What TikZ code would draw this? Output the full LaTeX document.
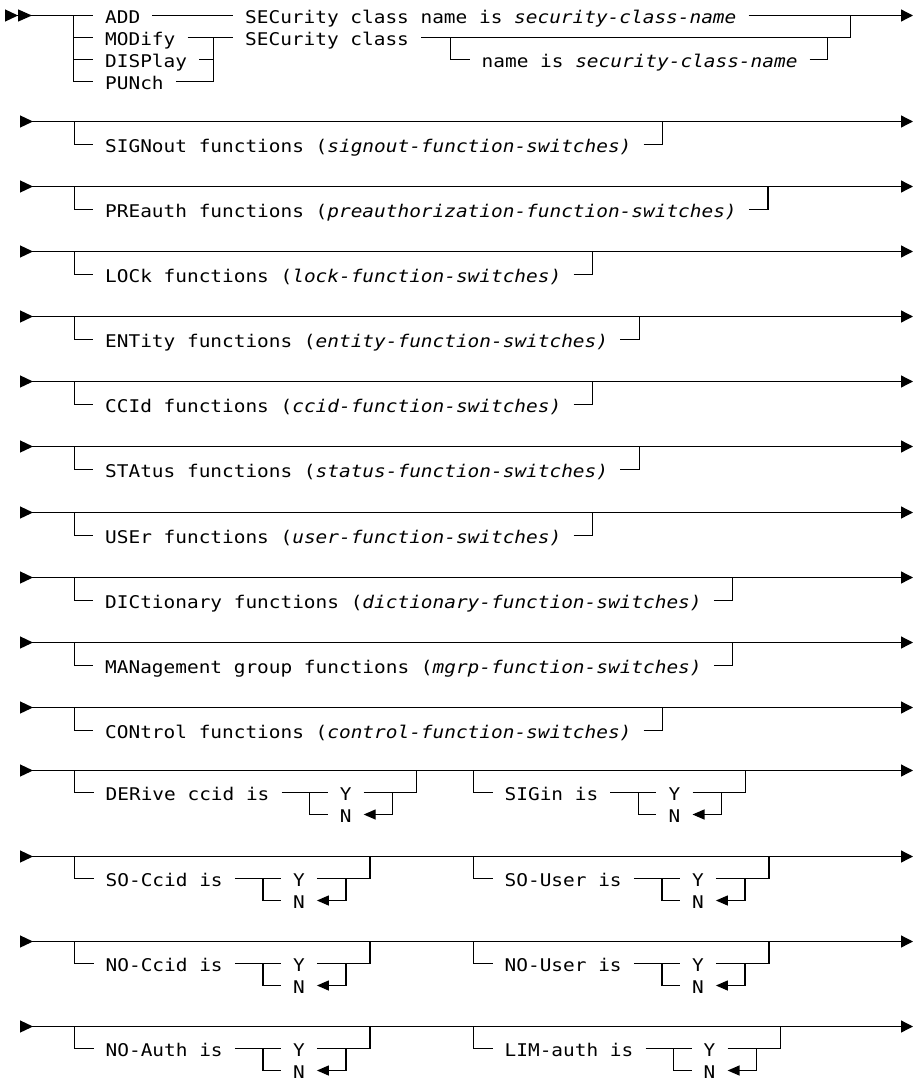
\documentclass[tikz,border=0pt]{standalone}
\usepackage{fontspec}
\newfontfamily\synfont{DejaVu Sans Mono}[FakeStretch=1.11,ItalicFont=* Oblique]
\usepackage{tikz}
\usetikzlibrary{arrows.meta,positioning,calc}
\tikzset{
  rail/.style={line width=1.3pt,draw=black},
  mainrail/.style={rail,{Triangle[reversed,length=13pt,width=12pt]}-{Triangle[length=12pt,width=12pt]}},
  startrail/.style={rail,{Triangle[reversed,length=13pt,width=12pt]Triangle[reversed,length=14pt,width=12pt]}-},
  endrail/.style={rail,-{Triangle[length=12pt,width=12pt]}},
  backrail/.style={rail,-{Triangle[length=12pt,width=10pt]}},
  kw/.style={anchor=west,inner xsep=12pt,inner ysep=0pt,text height=15.6pt,text depth=0pt,
    font={\synfont\fontsize{17.5}{20}\selectfont}},
  yn/.style={kw,anchor=center}
}

\begin{document}
\begin{tikzpicture}[x=1pt,y=-1pt]
  \useasboundingbox (0,0) rectangle (914,1082);
  \coordinate (st) at (5,15.5);
  \coordinate (fin) at (913,15.5);
  \node[kw] (add) at (93,15.5) {ADD};
  \node[kw] (modify) at (93,37.5) {MODify};
  \node[kw] (display) at (93,59.5) {DISPlay};
  \node[kw] (punch) at (93,81.5) {PUNch};
  \node[kw] (secname) at (233,15.5) {SECurity class name is \textit{security-class-name}};
  \node[kw] (secclass) at (233,37.5) {SECurity class};
  \node[kw] (nameis) at (469.5,59.5) {name is \textit{security-class-name}};
  \coordinate (ja) at (73.5,15.5);
  \coordinate (jm) at (213.5,37.5);
  \coordinate (jn) at (450.5,37.5);
  \coordinate (jr) at (850.5,15.5);
  \coordinate (jq) at ($(nameis.east)+(18,-22)$);
  \draw[startrail] (st) -- (add.west);
  \draw[rail] (ja) |- (punch.west);
  \draw[rail] (ja |- modify.west) -- (modify.west);
  \draw[rail] (ja |- display.west) -- (display.west);
  \draw[rail] (modify.east) -- (secclass.west);
  \draw[rail] (display.east) -| (jm);
  \draw[rail] (punch.east) -| (jm);
  \draw[rail] (add.east) -- (secname.west);
  \draw[endrail] (secname.east) -- (fin);
  \draw[rail] (secclass.east) -| (jr);
  \draw[rail] (jn) |- (nameis.west);
  \draw[rail] (nameis.east) -| (jq);

  \foreach \kwd/\arg [count=\k from 0] in {SIGNout functions/signout-function-switches,
      PREauth functions/preauthorization-function-switches,
      LOCk functions/lock-function-switches,
      ENTity functions/entity-function-switches,
      CCId functions/ccid-function-switches,
      STAtus functions/status-function-switches,
      USEr functions/user-function-switches,
      DICtionary functions/dictionary-function-switches,
      MANagement group functions/mgrp-function-switches,
      CONtrol functions/control-function-switches}{
    \pgfmathsetmacro\yy{round(120.5+65.2*\k)+0.5}
    \coordinate (s\k) at (20,\yy);
    \coordinate (e\k) at (913,\yy);
    \draw[mainrail] (s\k) -- (e\k);
    \node[kw] (opt\k) at (93,\yy+23) {\kwd\ (\textit{\arg)}};
    \coordinate (lj\k) at (74.5,\yy);
    \coordinate (rj\k) at ($(opt\k.east)+(19,-23)$);
    \draw[rail] (lj\k) |- (opt\k.west);
    \draw[rail] (opt\k.east) -| (rj\k);
  }

  \foreach \lt/\rt/\yy [count=\r] in {DERive ccid is/SIGin is/770.5,
      SO-Ccid is/SO-User is/856.5,
      NO-Ccid is/NO-User is/941.5,
      NO-Auth is/LIM-auth is/1026.5}{
    \coordinate (ys\r) at (20,\yy);
    \coordinate (ye\r) at (913,\yy);
    \draw[mainrail] (ys\r) -- (ye\r);
    \foreach \t/\bx/\sd in {\lt/74.5/l,\rt/473.5/r}{
      \coordinate (b\r\sd) at (\bx,\yy);
      \node[kw] (q\r\sd) at (\bx+19,\yy+22) {\t};
      \coordinate (c\r\sd) at ($(q\r\sd.east)+(28,0)$);
      \node[yn] (y\r\sd) at ($(c\r\sd)+(36,0)$) {Y};
      \node[yn] (n\r\sd) at ($(c\r\sd)+(36,22)$) {N};
      \coordinate (v\r\sd) at ($(y\r\sd)+(47,0)$);
      \coordinate (f\r\sd) at ($(y\r\sd)+(71,-22)$);
      \draw[rail] (b\r\sd) |- (q\r\sd.west);
      \draw[rail] (q\r\sd.east) -- (y\r\sd.west);
      \draw[rail] (c\r\sd) |- (n\r\sd.west);
      \draw[rail] (y\r\sd.east) -| (f\r\sd);
      \draw[backrail] (v\r\sd) |- (n\r\sd.east);
    }
  }
\end{tikzpicture}
\end{document}
